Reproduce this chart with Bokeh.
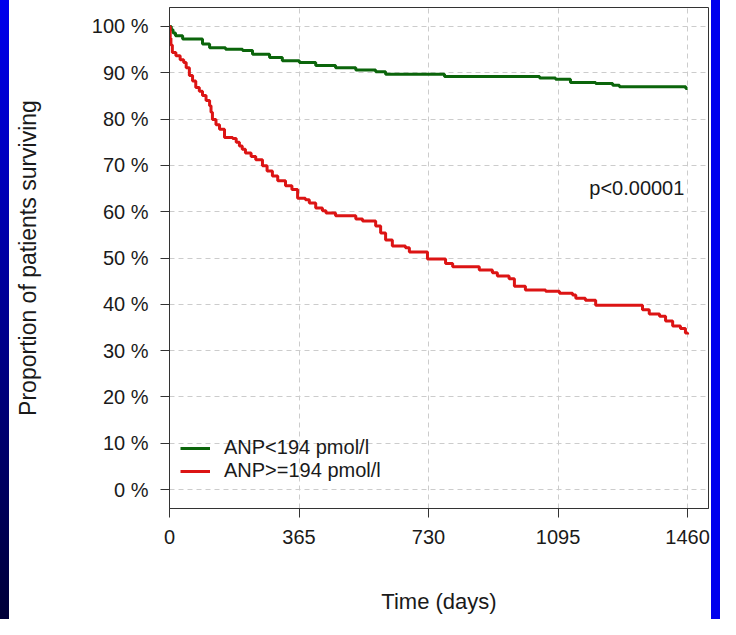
from bokeh.plotting import figure
from bokeh.models import (Range1d, FixedTicker, Label, Legend, LegendItem, Div)
from bokeh.layouts import row
from bokeh.embed import file_html
from bokeh.resources import INLINE

# ---- data ----
low_time = [0, 5, 10, 17, 37, 93, 113, 158, 206, 234, 282, 318, 366, 412, 468,
            525, 581, 609, 775, 1043, 1088, 1130, 1201, 1249, 1268, 1455, 1460]
low_surv = [1.000, 0.993, 0.986, 0.980, 0.973, 0.962, 0.954, 0.951, 0.948, 0.940,
            0.933, 0.926, 0.922, 0.916, 0.911, 0.906, 0.902, 0.897, 0.892, 0.889,
            0.886, 0.879, 0.877, 0.873, 0.870, 0.866, 0.866]

high_time = [0, 2, 4, 8, 18, 30, 40, 47, 56, 65, 74, 84, 93, 103, 113, 117, 121,
             131, 141, 155, 178, 188, 197, 205, 214, 230, 243, 262, 275, 290, 305,
             327, 345, 361, 383, 394, 412, 431, 441, 468, 525, 544, 581, 595, 609,
             628, 665, 676, 727, 778, 798, 873, 910, 924, 957, 972, 1003, 1060,
             1099, 1136, 1145, 1172, 1201, 1333, 1352, 1381, 1398, 1418, 1440,
             1454, 1460]
high_surv = [1.000, 0.975, 0.960, 0.944, 0.937, 0.928, 0.922, 0.911, 0.894, 0.882,
             0.868, 0.860, 0.851, 0.840, 0.829, 0.815, 0.799, 0.788, 0.778, 0.760,
             0.758, 0.750, 0.742, 0.735, 0.727, 0.719, 0.712, 0.699, 0.688, 0.677,
             0.667, 0.656, 0.648, 0.629, 0.626, 0.619, 0.608, 0.602, 0.597, 0.591,
             0.584, 0.580, 0.569, 0.554, 0.539, 0.526, 0.522, 0.513, 0.498, 0.488,
             0.481, 0.474, 0.468, 0.461, 0.455, 0.439, 0.431, 0.428, 0.424, 0.420,
             0.413, 0.409, 0.398, 0.388, 0.379, 0.374, 0.364, 0.353, 0.348, 0.338,
             0.335]

series_names = ["ANP<194 pmol/l", "ANP>=194 pmol/l"]
series_colors = ["#0b650b", "#dc1414"]

x_ticks = [0, 365, 730, 1095, 1460]
y_ticks = [0.0, 0.1, 0.2, 0.3, 0.4, 0.5, 0.6, 0.7, 0.8, 0.9, 1.0]
y_labels = ["0 %", "10 %", "20 %", "30 %", "40 %", "50 %", "60 %", "70 %",
            "80 %", "90 %", "100 %"]
p_text = "p<0.00001"
p_pos = (1451, 0.651)

FONT = "Liberation Sans"
TXT = "#1a1a1a"

p = figure(width=702, height=619, output_backend="svg", toolbar_location=None,
           x_range=Range1d(0, 1519), y_range=Range1d(-0.041, 1.041),
           min_border_left=160, min_border_right=3, min_border_top=7,
           min_border_bottom=111, background_fill_color="white",
           border_fill_color="white", outline_line_color="#333333",
           outline_line_width=1)

# grid
p.xgrid.ticker = FixedTicker(ticks=x_ticks)
p.ygrid.ticker = FixedTicker(ticks=y_ticks)
for g in (p.xgrid, p.ygrid):
    g.grid_line_color = "#cccccc"
    g.grid_line_dash = "5 4"
    g.grid_line_width = 1

# axes
p.xaxis.ticker = FixedTicker(ticks=x_ticks)
p.yaxis.ticker = FixedTicker(ticks=y_ticks)
p.yaxis.major_label_overrides = {t: l for t, l in zip(y_ticks, y_labels)}
p.xaxis.major_label_overrides = {t: str(t) for t in x_ticks}
for ax in (p.xaxis, p.yaxis):
    ax.axis_line_color = "#333333"
    ax.major_tick_line_color = "#333333"
    ax.major_tick_out = 9
    ax.major_tick_in = 0
    ax.minor_tick_line_color = None
    ax.major_label_text_font = FONT
    ax.major_label_text_font_size = "20px"
    ax.major_label_text_color = TXT
    ax.axis_label_text_font = FONT
    ax.axis_label_text_font_style = "normal"
    ax.axis_label_text_color = TXT
p.yaxis.major_label_standoff = 12
p.xaxis.major_label_standoff = 12
p.yaxis.axis_label = "Proportion of patients surviving"
p.xaxis.axis_label = "Time (days)"
p.yaxis.axis_label_text_font_size = "23px"
p.xaxis.axis_label_text_font_size = "22px"
p.yaxis.axis_label_standoff = 48
p.xaxis.axis_label_standoff = 42

# curves
r1 = p.step(low_time, low_surv, mode="after", line_color=series_colors[0], line_width=3)
r2 = p.step(high_time, high_surv, mode="after", line_color=series_colors[1], line_width=3)

legend = Legend(items=[LegendItem(label=series_names[0], renderers=[r1]),
                       LegendItem(label=series_names[1], renderers=[r2])],
                location=(11, 26), glyph_width=30, glyph_height=20,
                label_standoff=14, spacing=0, padding=0, margin=0,
                border_line_alpha=0, background_fill_alpha=0,
                label_text_font=FONT, label_text_font_size="20px",
                label_text_color=TXT)
p.add_layout(legend)

p.add_layout(Label(x=p_pos[0], y=p_pos[1], text=p_text, text_align="right",
                   text_baseline="middle", text_font=FONT, text_font_size="20px",
                   text_color=TXT))

left = Div(text="", width=9, height=619, margin=0,
           styles={"background": "linear-gradient(to bottom, #0000ee, #000038)"})
right = Div(text="", width=9, height=619, margin=0,
            styles={"background": "#0000ee"})
layout = row(left, p, right, spacing=0)

open("out.html", "w").write(file_html(layout, INLINE))
